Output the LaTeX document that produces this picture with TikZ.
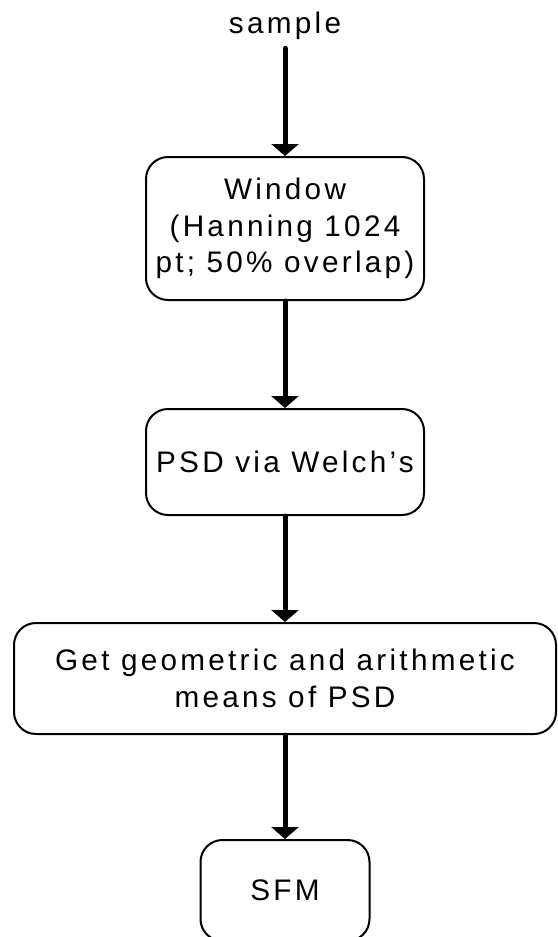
\documentclass[tikz,border=0pt]{standalone}
\usepackage{fontspec}
\setmainfont{Liberation Sans}[LetterSpace=11]
\usepackage{tikz}
\usetikzlibrary{arrows.meta, positioning}

\begin{document}
\begin{tikzpicture}[
        x=1pt, y=1pt,
        node distance=106pt,
        box/.style={rounded corners=22pt, draw=black, line width=2pt, align=center, inner sep=0pt, font=\fontsize{29.7}{36.5}\selectfont},
        arrow/.style={-{Triangle[width=27pt, length=12pt]}, line width=5pt, line cap=round}
    ]
        \useasboundingbox (0,0) rectangle (557,-937);
        \node[inner sep=0pt, anchor=base, font=\fontsize{29.7}{36.5}\selectfont] (sample) at (285,-33) {sample};
        \node[box, minimum width=278pt, minimum height=143pt] (window) at (285,-228.5) {Window\\(Hanning 1024\\pt; 50\% overlap)};
        \node[box, minimum width=278pt, minimum height=106pt, below=107pt of window] (welch) {PSD via Welch's};
        \node[box, minimum width=542pt, minimum height=111pt, below=of welch] (means) {Get geometric and arithmetic\\means of PSD};
        \node[box, minimum width=169pt, minimum height=101pt, below=104pt of means] (sfm) {SFM};

        \draw[arrow, shorten <=9pt] (sample) -- (window);
        \draw[arrow] (window) -- (welch);
        \draw[arrow] (welch) -- (means);
        \draw[arrow] (means) -- (sfm);
    \end{tikzpicture}
\end{document}
